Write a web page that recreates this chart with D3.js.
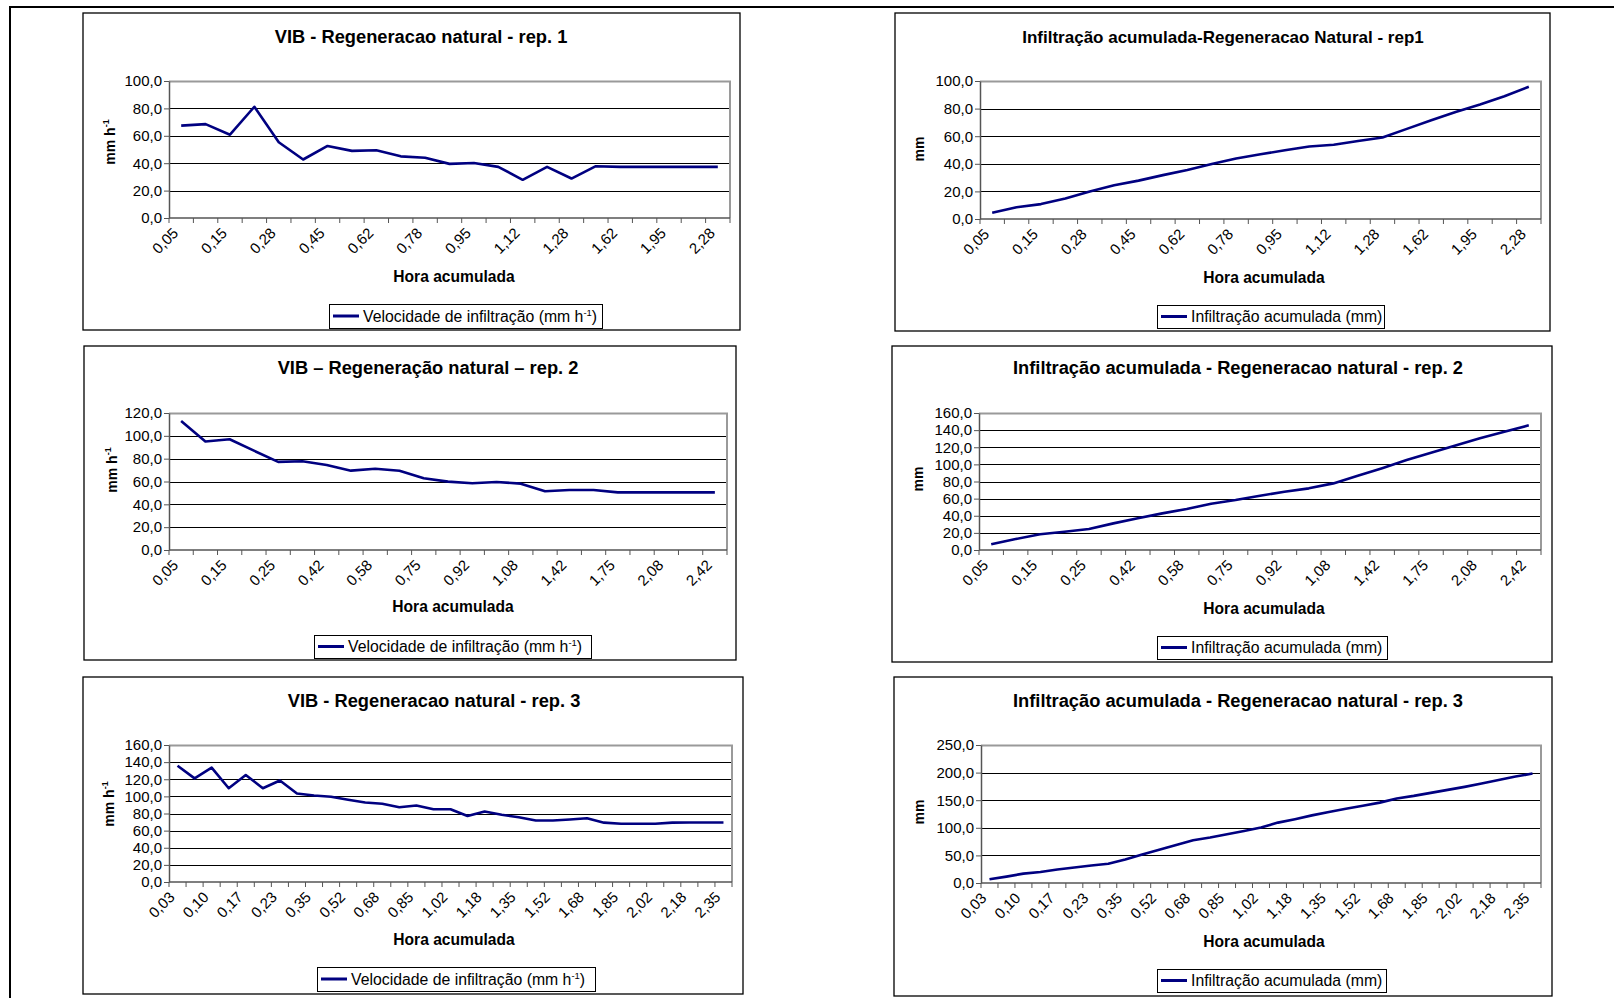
<!DOCTYPE html>
<html>
<head>
<meta charset="utf-8">
<script src="https://cdn.jsdelivr.net/npm/d3@7"></script>
<style>
  body { margin: 0; background: #fff; }
  svg { display: block; font-family: "Liberation Sans", Arial, sans-serif; }
</style>
</head>
<body>
<svg id="chart" width="1614" height="998"></svg>
<script>
// ---- Elapsed time (h) of each reading ----
const hoursRep1 = ["0,05","0,10","0,15","0,22","0,28","0,37","0,45","0,53","0,62","0,70","0,78","0,87",
                   "0,95","1,03","1,12","1,20","1,28","1,45","1,62","1,78","1,95","2,12","2,28"];
const hoursRep2 = ["0,05","0,10","0,15","0,20","0,25","0,33","0,42","0,50","0,58","0,67","0,75","0,83",
                   "0,92","1,00","1,08","1,25","1,42","1,58","1,75","1,92","2,08","2,25","2,42"];
const hoursRep3 = ["0,03","0,07","0,10","0,13","0,17","0,20","0,23","0,28","0,35","0,43","0,52","0,60",
                   "0,68","0,77","0,85","0,93","1,02","1,10","1,18","1,27","1,35","1,43","1,52","1,60",
                   "1,68","1,77","1,85","1,93","2,02","2,10","2,18","2,27","2,35"];

// ---- Infiltration rate, VIB (mm h-1) ----
const vibRep1 = [67.4, 68.5, 60.8, 81.2, 55.3, 42.7, 52.6, 49.0, 49.4, 45.0, 44.0, 39.5,
                 40.2, 37.3, 27.9, 37.3, 28.8, 37.8, 37.3, 37.3, 37.3, 37.3, 37.3];
const vibRep2 = [113.0, 95.0, 97.0, 87.0, 77.2, 77.7, 74.5, 69.5, 71.2, 69.4, 62.8, 59.9,
                 58.4, 59.6, 58.1, 51.4, 52.6, 52.6, 50.5, 50.5, 50.5, 50.5, 50.5];
const vibRep3 = [135.8, 121.0, 133.5, 109.5, 124.9, 109.5, 118.6, 103.4, 101.0, 99.5, 96.0, 92.9,
                 91.3, 87.3, 89.4, 85.0, 85.0, 77.0, 82.3, 78.5, 75.6, 71.8, 71.8, 73.0,
                 74.5, 69.3, 68.0, 68.0, 68.0, 69.3, 69.5, 69.5, 69.5];

// ---- Cumulative infiltration (mm) ----
const infRep1 = [4.5, 8.5, 10.8, 14.8, 20.0, 24.5, 27.8, 31.8, 35.5, 39.8, 43.8, 46.9,
                 49.8, 52.5, 53.8, 56.5, 59.0, 65.3, 71.5, 77.6, 82.9, 89.0, 95.8];
const infRep2 = [6.6, 12.8, 18.3, 21.4, 24.5, 31.1, 37.0, 42.8, 47.9, 54.1, 58.4, 63.4,
                 68.1, 72.0, 77.8, 86.6, 95.6, 105.0, 113.6, 122.0, 130.6, 138.2, 145.6];
const infRep3 = [6.7, 11.6, 17.0, 20.0, 24.4, 28.0, 31.7, 34.8, 42.7, 51.8, 60.4, 69.0,
                 77.5, 82.5, 88.3, 94.2, 100.6, 109.4, 115.6, 122.5, 128.8, 134.4, 140.0, 145.6,
                 153.0, 157.8, 163.3, 168.7, 174.1, 180.1, 186.7, 192.8, 198.2];

// ---- Y tick values ----
const ticks0to100 = [0, 20, 40, 60, 80, 100];
const ticks0to120 = [0, 20, 40, 60, 80, 100, 120];
const ticks0to160 = [0, 20, 40, 60, 80, 100, 120, 140, 160];
const ticks0to250 = [0, 50, 100, 150, 200, 250];

// ---- Texts ----
const titles = [
  "VIB - Regeneracao natural - rep. 1",
  "Infiltração acumulada-Regeneracao Natural - rep1",
  "VIB – Regeneração natural – rep. 2",
  "Infiltração acumulada - Regeneracao natural - rep. 2",
  "VIB - Regeneracao natural - rep. 3",
  "Infiltração acumulada - Regeneracao natural - rep. 3"
];
const xTitle = "Hora acumulada";
const legendRate = "Velocidade de infiltração (mm h";
const legendCum = "Infiltração acumulada (mm)";

// ---- Panel layout (pixels) ----
const panels = [
  { title: titles[0], titleSize: 18.3, cats: hoursRep1, vals: vibRep1, ticks: ticks0to100, kind: "rate",
    box: [83, 13, 740, 330], plot: [169, 81, 730, 218], titleX: 421, titleY: 43,
    xTitleX: 454, xTitleY: 282, yTitleX: 115, yTitleY: 142, legend: [329, 304, 602, 328] },
  { title: titles[1], titleSize: 17, cats: hoursRep1, vals: infRep1, ticks: ticks0to100, kind: "cum",
    box: [895, 13, 1550, 331], plot: [980, 81, 1541, 219], titleX: 1223, titleY: 43,
    xTitleX: 1264, xTitleY: 283, yTitleX: 924, yTitleY: 149, legend: [1157, 305, 1384, 328] },
  { title: titles[2], titleSize: 18.3, cats: hoursRep2, vals: vibRep2, ticks: ticks0to120, kind: "rate",
    box: [84, 346, 736, 660], plot: [169, 413, 727, 550], titleX: 428, titleY: 374,
    xTitleX: 453, xTitleY: 612, yTitleX: 117, yTitleY: 470, legend: [314, 635, 591, 658] },
  { title: titles[3], titleSize: 18.3, cats: hoursRep2, vals: infRep2, ticks: ticks0to160, kind: "cum",
    box: [892, 346, 1552, 662], plot: [979, 413, 1541, 550], titleX: 1238, titleY: 374,
    xTitleX: 1264, xTitleY: 614, yTitleX: 923, yTitleY: 479, legend: [1157, 636, 1387, 659] },
  { title: titles[4], titleSize: 18.3, cats: hoursRep3, vals: vibRep3, ticks: ticks0to160, kind: "rate",
    box: [83, 677, 743, 994], plot: [169, 745, 732, 882], titleX: 434, titleY: 707,
    xTitleX: 454, xTitleY: 945, yTitleX: 114, yTitleY: 804, legend: [317, 967, 595, 991] },
  { title: titles[5], titleSize: 18.3, cats: hoursRep3, vals: infRep3, ticks: ticks0to250, kind: "cum",
    box: [894, 677, 1552, 996], plot: [981, 745, 1541, 883], titleX: 1238, titleY: 707,
    xTitleX: 1264, xTitleY: 947, yTitleX: 924, yTitleY: 812, legend: [1157, 969, 1386, 992] }
];

const LINE_COLOR = "#000080";
const fmt = d => d3.format(".1f")(d).replace(".", ",");

const svg = d3.select("#chart");
svg.append("rect").attr("width", 1614).attr("height", 998).attr("fill", "#fff");

// page frame
svg.append("line").attr("x1", 10).attr("x2", 1614).attr("y1", 7).attr("y2", 7)
  .attr("stroke", "#000").attr("stroke-width", 2.2);
svg.append("line").attr("x1", 10).attr("x2", 10).attr("y1", 6).attr("y2", 998)
  .attr("stroke", "#000").attr("stroke-width", 2);

function drawPanel(p) {
  const g = svg.append("g");
  const [bx0, by0, bx1, by1] = p.box;
  const [px0, py0, px1, py1] = p.plot;

  g.append("rect").attr("x", bx0).attr("y", by0)
    .attr("width", bx1 - bx0).attr("height", by1 - by0)
    .attr("fill", "#fff").attr("stroke", "#000").attr("stroke-width", 1.3);

  const x = d3.scaleBand().domain(p.cats).range([px0, px1]).padding(0);
  const y = d3.scaleLinear().domain([0, d3.max(p.ticks)]).range([py1, py0]);

  // gridlines
  g.append("g").selectAll("line").data(p.ticks.filter(t => t > 0)).join("line")
    .attr("x1", px0).attr("x2", px1)
    .attr("y1", d => Math.round(y(d)) + 0.5).attr("y2", d => Math.round(y(d)) + 0.5)
    .attr("stroke", "#000").attr("stroke-width", 1);

  // plot-area border (top / right)
  g.append("path")
    .attr("d", `M${px0},${Math.round(y(d3.max(p.ticks))) + 0.5}H${px1}V${py1}`)
    .attr("fill", "none").attr("stroke", "#9a9a9a").attr("stroke-width", 2);

  // y axis
  const yAxis = g.append("g").attr("transform", `translate(${px0},0)`)
    .call(d3.axisLeft(y).tickValues(p.ticks).tickSize(5).tickSizeOuter(0).tickFormat(fmt));
  yAxis.select(".domain").attr("stroke", "#555").attr("stroke-width", 1.5);
  yAxis.selectAll(".tick line").attr("stroke", "#555");
  yAxis.selectAll(".tick text").attr("x", -7)
    .attr("font-family", "Liberation Sans, Arial, sans-serif")
    .attr("font-size", 15).attr("fill", "#000");

  // x axis: baseline, ticks at category boundaries, labels on every other category
  const step = x.step();
  const bounds = d3.range(p.cats.length + 1).map(i => x.range()[0] + i * step);
  g.append("line").attr("x1", px0).attr("x2", px1).attr("y1", py1).attr("y2", py1)
    .attr("stroke", "#555").attr("stroke-width", 1.5);
  g.append("g").selectAll("line").data(bounds).join("line")
    .attr("x1", d => d).attr("x2", d => d).attr("y1", py1).attr("y2", py1 + 5)
    .attr("stroke", "#555").attr("stroke-width", 1);
  g.append("g").selectAll("text")
    .data(p.cats.filter((c, i) => i % 2 === 0)).join("text")
    .attr("transform", d => `translate(${x(d) + x.bandwidth() / 2 - 2},${py1 + 16}) rotate(-45)`)
    .attr("text-anchor", "end").attr("font-size", 15).attr("fill", "#000")
    .text(d => d);

  // series
  const line = d3.line()
    .x((v, i) => x(p.cats[i]) + x.bandwidth() / 2)
    .y(v => y(v));
  g.append("path").datum(p.vals).attr("d", line)
    .attr("fill", "none").attr("stroke", LINE_COLOR).attr("stroke-width", 2.6)
    .attr("stroke-linejoin", "round");

  // titles
  g.append("text").attr("x", p.titleX).attr("y", p.titleY).attr("text-anchor", "middle")
    .attr("font-size", p.titleSize).attr("font-weight", "bold").text(p.title);
  g.append("text").attr("x", p.xTitleX).attr("y", p.xTitleY).attr("text-anchor", "middle")
    .attr("font-size", 15.6).attr("font-weight", "bold").text(xTitle);

  const yt = g.append("text")
    .attr("transform", `translate(${p.yTitleX},${p.yTitleY}) rotate(-90)`)
    .attr("text-anchor", "middle").attr("font-size", 14).attr("font-weight", "bold");
  if (p.kind === "rate") {
    yt.append("tspan").text("mm h");
    yt.append("tspan").attr("font-size", 9).attr("dy", -6).text("-1");
  } else {
    yt.text("mm");
  }

  // legend
  const [lx0, ly0, lx1, ly1] = p.legend;
  const lmid = (ly0 + ly1) / 2;
  g.append("rect").attr("x", lx0 + 0.5).attr("y", ly0 + 0.5)
    .attr("width", lx1 - lx0).attr("height", ly1 - ly0)
    .attr("fill", "#fff").attr("stroke", "#000").attr("stroke-width", 1);
  g.append("line").attr("x1", lx0 + 4).attr("x2", lx0 + 30).attr("y1", lmid).attr("y2", lmid)
    .attr("stroke", LINE_COLOR).attr("stroke-width", 3);
  const lt = g.append("text").attr("x", lx0 + 34).attr("y", lmid + 5.5).attr("font-size", 15.8);
  if (p.kind === "rate") {
    lt.append("tspan").text(legendRate);
    lt.append("tspan").attr("font-size", 9.5).attr("dy", -6).text("-1");
    lt.append("tspan").attr("dy", 6).text(")");
  } else {
    lt.text(legendCum);
  }
}

panels.forEach(drawPanel);
</script>
</body>
</html>
